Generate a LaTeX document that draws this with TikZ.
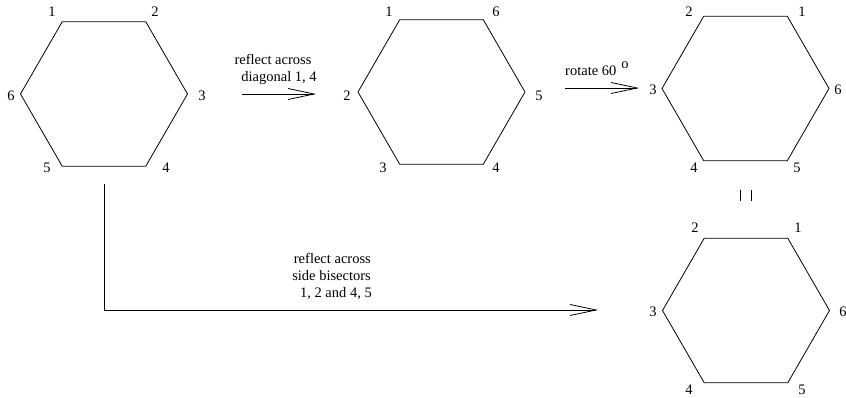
\documentclass[tikz,border=0pt]{standalone}
\usepackage{fontspec}
\setmainfont{Liberation Serif}
\usetikzlibrary{arrows.meta}
\tikzset{
  hexline/.style={line width=0.8pt, line join=miter},
  lbl/.style={inner sep=0pt, font=\fontsize{14.5}{17}\selectfont},
  txt/.style={inner sep=0pt, anchor=base, font=\fontsize{14.5}{17}\selectfont},
  conn/.style={line width=0.8pt, -{Straight Barb[length=26pt, width=11pt, line width=0.8pt]}},
  hexa/.pic={\draw[hexline] (0:83.5)--(60:83.5)--(120:83.5)--(180:83.5)--(240:83.5)--(300:83.5)--cycle;}
}
\begin{document}
\begin{tikzpicture}[x=1pt, y=-1pt]
\useasboundingbox (0,0) rectangle (846,398);
% centres
\coordinate (c1) at (104,94);
\coordinate (c2) at (441.5,92);
\coordinate (c3) at (745.5,88.5);
\coordinate (c4) at (746,310.5);
\pic at (c1) {hexa};
\pic at (c2) {hexa};
\pic at (c3) {hexa};
\pic at (c4) {hexa};
% hexagon 1 labels
\node[lbl] (a1) at (52,12) {1};
\node[lbl] (a2) at (155,12) {2};
\node[lbl] (a3) at (202,96) {3};
\node[lbl] (a4) at (166,168) {4};
\node[lbl] (a5) at (47,168) {5};
\node[lbl] (a6) at (11,96) {6};
% hexagon 2 labels
\node[lbl] (b1) at (389,12) {1};
\node[lbl] (b6) at (496,12) {6};
\node[lbl] (b2) at (347,96) {2};
\node[lbl] (b5) at (539,96) {5};
\node[lbl] (b3) at (383,168) {3};
\node[lbl] (b4) at (496,168) {4};
% hexagon 3 labels
\node[lbl] (d2) at (689,12) {2};
\node[lbl] (d1) at (802,12) {1};
\node[lbl] (d3) at (653,90) {3};
\node[lbl] (d6) at (838,90) {6};
\node[lbl] (d4) at (694,168) {4};
\node[lbl] (d5) at (797,168) {5};
% hexagon 4 labels
\node[lbl] (e2) at (695,228) {2};
\node[lbl] (e1) at (798,228) {1};
\node[lbl] (e3) at (653,312) {3};
\node[lbl] (e6) at (843,312) {6};
\node[lbl] (e4) at (689,390) {4};
\node[lbl] (e5) at (802,390) {5};
% equality bars
\draw[line width=0.8pt] (740,190) -- (740,201);
\draw[line width=0.8pt] (751,190) -- (751,201);
% arrow 1
\coordinate (s1) at (242,94);
\coordinate (t1) at (316,94);
\draw[conn] (s1) -- (t1);
\node[txt] (l1a) at (273,65) {reflect across};
\node[txt] (l1b) at (279,82) {diagonal 1, 4};
% arrow 2
\coordinate (s2) at (565,88);
\coordinate (t2) at (639,88);
\draw[conn] (s2) -- (t2);
\node[txt, anchor=base west] (l2) at (565,76) {rotate 60\hspace{5pt}\raisebox{7.5pt}{o}};
% arrow 3
\coordinate (s3) at (104,184);
\coordinate (t3) at (598,310);
\draw[conn] (s3) |- (t3);
\node[txt, anchor=base east] (l3a) at (371,263) {reflect across};
\node[txt, anchor=base east] (l3b) at (371,280) {side bisectors};
\node[txt, anchor=base east] (l3c) at (372,297) {1, 2 and 4, 5};
\end{tikzpicture}
\end{document}
